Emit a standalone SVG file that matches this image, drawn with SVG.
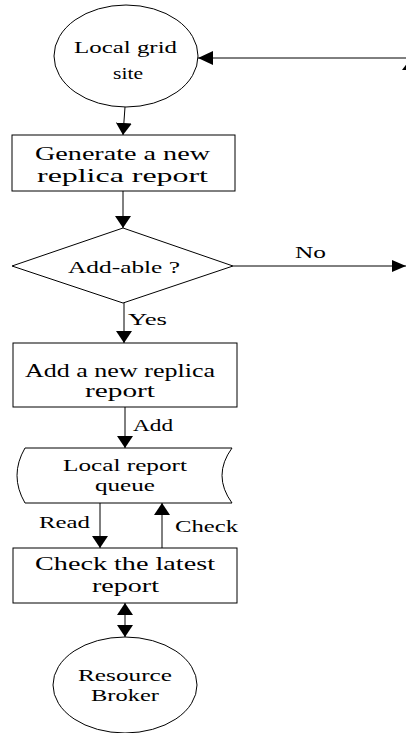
<svg xmlns="http://www.w3.org/2000/svg" width="406" height="733" viewBox="0 0 406 733">
<style>
.s{fill:#fff;stroke:#000;stroke-width:1}
.c{fill:none;stroke:#000;stroke-width:1}
text{font-family:"Liberation Serif","Times New Roman",serif;fill:#000}
.t{font-size:17.5px}
.b{font-size:19.5px}
.m{font-size:19px}
.l{font-size:17px}
</style>
<defs>
<marker id="av" viewBox="0 0 12 16" refX="12" refY="8" markerWidth="12" markerHeight="16" markerUnits="userSpaceOnUse" orient="auto-start-reverse"><path d="M0,0 L12,8 L0,16 z" fill="#000"/></marker>
<marker id="ah" viewBox="0 0 15 14" refX="15" refY="7" markerWidth="15" markerHeight="14" markerUnits="userSpaceOnUse" orient="auto"><path d="M0,0 L15,7 L0,14 z" fill="#000"/></marker>
<marker id="an" viewBox="0 0 14 12" refX="14" refY="6" markerWidth="14" markerHeight="12" markerUnits="userSpaceOnUse" orient="auto"><path d="M0,0 L14,6 L0,12 z" fill="#000"/></marker>
</defs>
<g id="connectors">
<line class="c" x1="125" y1="107" x2="123" y2="135" marker-end="url(#av)"/>
<line class="c" x1="123" y1="191" x2="123" y2="228" marker-end="url(#av)"/>
<line class="c" x1="406" y1="58" x2="198" y2="58" marker-end="url(#ah)"/>
<line class="c" x1="233" y1="266" x2="406" y2="266" marker-end="url(#an)"/>
<line class="c" x1="124" y1="303" x2="124" y2="343" marker-end="url(#av)"/>
<line class="c" x1="125" y1="407" x2="125" y2="448" marker-end="url(#av)"/>
<line class="c" x1="100" y1="503" x2="100" y2="548" marker-end="url(#av)"/>
<line class="c" x1="162" y1="548" x2="162" y2="503" marker-end="url(#av)"/>
<line class="c" x1="125" y1="603" x2="125" y2="637" marker-start="url(#av)" marker-end="url(#av)"/>
<polygon points="402,70 408,62 414,70" fill="#000"/>
<text class="l" x="295" y="258" textLength="31" lengthAdjust="spacingAndGlyphs">No</text>
<text class="l" x="128" y="325" textLength="39" lengthAdjust="spacingAndGlyphs">Yes</text>
<text class="l" x="133" y="431" textLength="40" lengthAdjust="spacingAndGlyphs">Add</text>
<text class="l" x="39" y="528" textLength="51" lengthAdjust="spacingAndGlyphs">Read</text>
<text class="l" x="175" y="532" textLength="63" lengthAdjust="spacingAndGlyphs">Check</text>
</g>
<g id="local-grid-site">
<ellipse class="s" cx="126" cy="56" rx="72" ry="51"/>
<text class="t" x="74" y="53" textLength="103" lengthAdjust="spacingAndGlyphs">Local grid</text>
<text class="t" x="113" y="79" textLength="30" lengthAdjust="spacingAndGlyphs">site</text>
</g>
<g id="generate">
<rect class="s" x="12" y="135" width="223" height="56"/>
<text class="b" x="35" y="160" textLength="175" lengthAdjust="spacingAndGlyphs">Generate a new</text>
<text class="b" x="37" y="182" textLength="171" lengthAdjust="spacingAndGlyphs">replica report</text>
</g>
<g id="addable">
<polygon class="s" points="123,228 233,266 123,303 12,266"/>
<text class="t" x="68" y="273" textLength="112" lengthAdjust="spacingAndGlyphs">Add-able ?</text>
</g>
<g id="add-report">
<rect class="s" x="13" y="343" width="224" height="64"/>
<text class="m" x="25" y="377" textLength="190" lengthAdjust="spacingAndGlyphs">Add a new replica</text>
<text class="m" x="85" y="397" textLength="70" lengthAdjust="spacingAndGlyphs">report</text>
</g>
<g id="queue">
<path class="s" d="M25,448 L232,448 Q212,475.5 232,503 L25,503 Q9,475.5 25,448 Z"/>
<text class="t" x="63" y="471" textLength="124" lengthAdjust="spacingAndGlyphs">Local report</text>
<text class="t" x="95" y="491" textLength="60" lengthAdjust="spacingAndGlyphs">queue</text>
</g>
<g id="check-latest">
<rect class="s" x="13" y="548" width="224" height="55"/>
<text class="b" x="35" y="570" textLength="180" lengthAdjust="spacingAndGlyphs">Check the latest</text>
<text class="b" x="92" y="592" textLength="67" lengthAdjust="spacingAndGlyphs">report</text>
</g>
<g id="resource-broker">
<ellipse class="s" cx="125" cy="685" rx="72" ry="48"/>
<text class="t" x="78" y="681" textLength="94" lengthAdjust="spacingAndGlyphs">Resource</text>
<text class="t" x="91" y="701" textLength="68" lengthAdjust="spacingAndGlyphs">Broker</text>
</g>
</svg>
